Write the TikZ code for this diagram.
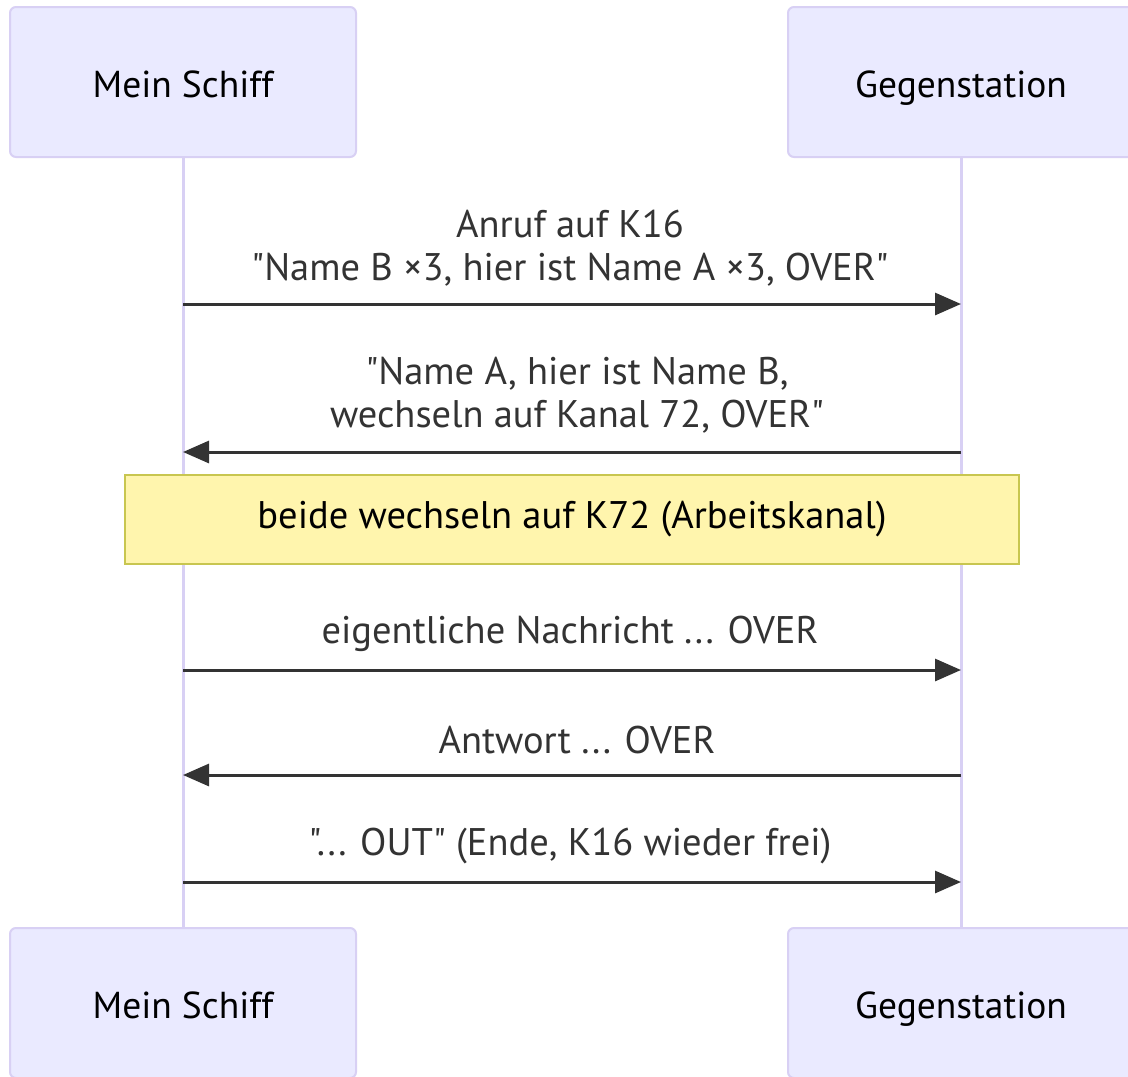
\documentclass[tikz,border=0pt]{standalone}
\usepackage{fontspec}
\setmainfont{PT Sans}[Ligatures=TeXOff]
\usetikzlibrary{arrows.meta}
\definecolor{actfill}{HTML}{EAEAFF}
\definecolor{actline}{HTML}{D8D0F4}
\definecolor{msg}{HTML}{333333}
\definecolor{notefill}{HTML}{FFF5AD}
\definecolor{noteline}{HTML}{C8C650}
\tikzset{
  x=1pt, y=-1pt,
  actor/.style={draw=actline, fill=actfill, line width=2pt, rounded corners=6pt,
    minimum width=346pt, minimum height=150pt, inner sep=0pt, text height=30pt, text depth=0pt,
    font=\fontsize{37.5}{40}\selectfont, text=black},
  life/.style={draw=actline, line width=3pt},
  msgarrow/.style={draw=msg, line width=3pt, -{Triangle[length=26pt,width=22pt]}},
  msgtext/.style={font=\fontsize{38.5}{43}\selectfont, text=msg, align=center, inner sep=0pt},
  notebox/.style={draw=noteline, fill=notefill, line width=2pt, minimum width=894pt, minimum height=89pt,
    inner sep=0pt, font=\fontsize{38.5}{40}\selectfont, text=black}
}
\begin{document}
\begin{tikzpicture}
\useasboundingbox (0,0) rectangle (1128,1077);
\fill[white] (0,0) rectangle (1128,1077);
% lifelines
\coordinate (la) at (183,157);
\coordinate (lb) at (961,157);
\coordinate (la2) at (183,928);
\coordinate (lb2) at (961,928);
\draw[life] (la) -- (la2);
\draw[life] (lb) -- (lb2);
% actors
\node[actor] (a1) at (183,82) {Mein Schiff};
\node[actor] (b1) at (961,82) {Gegenstation};
\node[actor] (a2) at (183,1003) {Mein Schiff};
\node[actor] (b2) at (961,1003) {Gegenstation};
% message coordinates
\coordinate (m1a) at (183,304); \coordinate (m1b) at (961,304);
\coordinate (m2a) at (183,452); \coordinate (m2b) at (961,452);
\coordinate (m3a) at (183,670); \coordinate (m3b) at (961,670);
\coordinate (m4a) at (183,775); \coordinate (m4b) at (961,775);
\coordinate (m5a) at (183,882); \coordinate (m5b) at (961,882);
\draw[msgarrow] (m1a) -- (m1b);
\draw[msgarrow] (m2b) -- (m2a);
\draw[msgarrow] (m3a) -- (m3b);
\draw[msgarrow] (m4b) -- (m4a);
\draw[msgarrow] (m5a) -- (m5b);
\node[msgtext] (t1) at (570,248) {Anruf auf K16\\"Name B ×3, hier ist Name A ×3, OVER"};
\node[msgtext] (t2) at (577,395) {"Name A, hier ist Name B,\\wechseln auf Kanal 72, OVER"};
\node[msgtext] (t3) at (570,634) {eigentliche Nachricht ... OVER};
\node[msgtext] (t4) at (577,740) {Antwort ... OVER};
\node[msgtext] (t5) at (570,846) {"... OUT" (Ende, K16 wieder frei)};
% note
\node[notebox] (n1) at (572,519.5) {beide wechseln auf K72 (Arbeitskanal)};
\end{tikzpicture}
\end{document}
